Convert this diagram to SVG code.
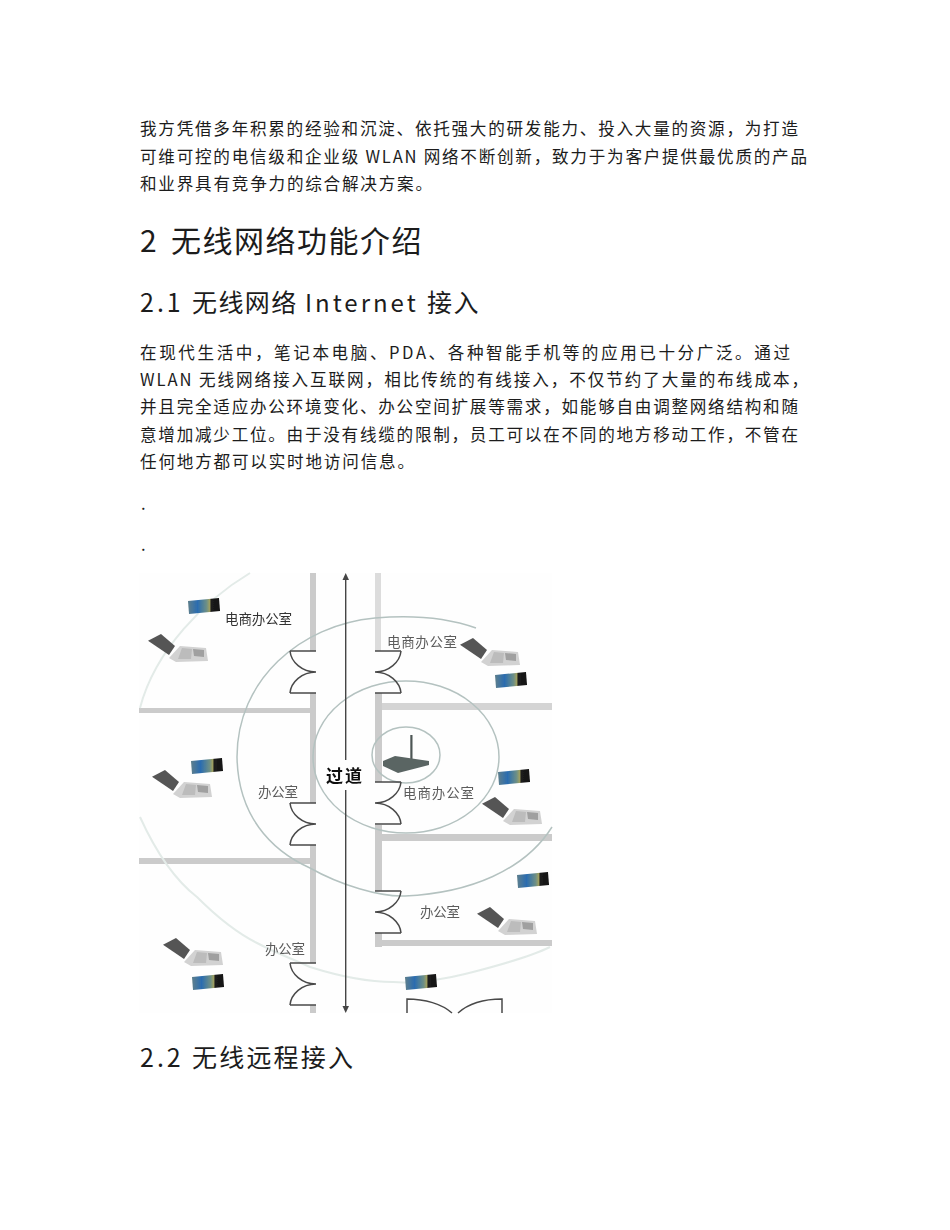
<svg xmlns="http://www.w3.org/2000/svg" xmlns:xlink="http://www.w3.org/1999/xlink" width="950" height="1230" viewBox="0 0 950 1230">
<style>
text{font-family:"Noto Sans CJK SC","Noto Sans",sans-serif;fill:#1c1c1c}
.b{font-size:16.6px}
.h1{font-size:30px}
.h2{font-size:25px}
.w{fill:#cbcbcb}
.d{fill:none;stroke:#4a4a4a;stroke-width:1.5}
.r{fill:none;stroke:#b4c2c0;stroke-width:1.5}
.o{fill:none;stroke:#e3ebe8;stroke-width:2}
.l{font-size:13.5px;fill:#5c5c5c}
</style>
<defs>
<filter id="soft" x="-5%" y="-5%" width="110%" height="110%"><feGaussianBlur stdDeviation="0.55"/></filter>
<linearGradient id="cg" x1="0" x2="1" y1="0" y2="0"><stop offset="0" stop-color="#5f7f8c"/><stop offset=".3" stop-color="#2a6cb0"/><stop offset=".58" stop-color="#6d8f86"/><stop offset=".68" stop-color="#a0a060"/><stop offset=".72" stop-color="#1d1d1d"/><stop offset="1" stop-color="#111"/></linearGradient>
<g id="card"><polygon points="-16,-5 15,-8 16,5 -15,8" fill="url(#cg)"/></g>
<g id="laptop">
<polygon points="0,6.7 13,0 27,12 21,21" fill="#555"/>
<polygon points="21,24 32,12 58,14 60,27 28,28" fill="#d2d2d2"/>
<polygon points="45,15 56,16 56,23 46,22" fill="#a0a0a0"/>
<polygon points="34,14 44,15 43,25 30,25" fill="#bcbcbc"/>
</g>
<g id="doorL"><path d="M290,0H316M290,42H316"/><path d="M290,0C291,11 302,21 316,21C302,21 291,31 290,42" fill="none"/></g>
<g id="doorR"><path d="M375,0H401M375,42H401"/><path d="M401,0C400,11 389,21 375,21C389,21 400,31 401,42" fill="none"/></g>
</defs>
<rect width="950" height="1230" fill="#fff"/>

<g id="body-text">
<text class="b" x="140" y="135" textLength="658" lengthAdjust="spacing">我方凭借多年积累的经验和沉淀、依托强大的研发能力、投入大量的资源，为打造</text>
<text class="b" x="140" y="163" textLength="667" lengthAdjust="spacing">可维可控的电信级和企业级 WLAN 网络不断创新，致力于为客户提供最优质的产品</text>
<text class="b" x="140" y="190" textLength="292" lengthAdjust="spacing">和业界具有竞争力的综合解决方案。</text>
<text class="h1" y="252"><tspan x="140">2</tspan><tspan x="171" letter-spacing="1.5">无线网络功能介绍</tspan></text>
<text class="h2" y="312"><tspan x="140" letter-spacing="3">2.1</tspan><tspan x="192" letter-spacing="1.4">无线网络</tspan><tspan x="305" letter-spacing="3" font-size="24">Internet</tspan><tspan x="427" letter-spacing="1.4">接入</tspan></text>
<text class="b" x="140" y="359" textLength="650" lengthAdjust="spacing">在现代生活中，笔记本电脑、PDA、各种智能手机等的应用已十分广泛。通过</text>
<text class="b" x="140" y="386" textLength="668" lengthAdjust="spacing">WLAN 无线网络接入互联网，相比传统的有线接入，不仅节约了大量的布线成本，</text>
<text class="b" x="140" y="413" textLength="658" lengthAdjust="spacing">并且完全适应办公环境变化、办公空间扩展等需求，如能够自由调整网络结构和随</text>
<text class="b" x="140" y="441" textLength="658" lengthAdjust="spacing">意增加减少工位。由于没有线缆的限制，员工可以在不同的地方移动工作，不管在</text>
<text class="b" x="140" y="468" textLength="274" lengthAdjust="spacing">任何地方都可以实时地访问信息。</text>
<text class="b" x="141" y="510">.</text>
<text class="b" x="141" y="551">.</text>
<text class="h2" y="1067"><tspan x="140" letter-spacing="3">2.2</tspan><tspan x="192" letter-spacing="2.2">无线远程接入</tspan></text>
</g>

<g id="floorplan" filter="url(#soft)">
<rect x="139" y="573" width="413" height="440" fill="#fefefe"/>
<g id="walls">
<rect class="w" x="310" y="573" width="6" height="78"/>
<rect class="w" x="310" y="693" width="6" height="110"/>
<rect class="w" x="310" y="845" width="6" height="118"/>
<rect class="w" x="310" y="1005" width="6" height="8"/>
<rect class="w" x="139" y="708" width="171" height="5"/>
<rect class="w" x="139" y="858" width="171" height="6"/>
<rect x="375" y="573" width="6" height="78" fill="#dcdcdc"/>
<rect class="w" x="375" y="693" width="7" height="89"/>
<rect class="w" x="375" y="825" width="7" height="66"/>
<rect class="w" x="375" y="933" width="7" height="14"/>
<rect x="382" y="703" width="170" height="7" fill="#d4d4d4"/>
<rect class="w" x="382" y="834" width="170" height="7"/>
<rect class="w" x="382" y="940" width="170" height="6"/>
</g>
<g id="rings">
<path class="o" d="M250,573C205,600 155,650 140,708"/>
<path class="o" d="M140,817C155,850 175,880 197,897C215,915 235,932 257,943C280,955 300,962 310,967C345,978 370,982 393,982C420,984 450,978 473,972C500,965 530,957 550,947"/>
<path class="r" d="M476,628C445,617 410,615 375,618C300,625 237,680 237,757C238,815 270,850 310,868C340,885 380,897 405,896C470,893 525,870 552,827"/>
<ellipse class="r" cx="406" cy="757" rx="93" ry="76"/>
<ellipse class="r" cx="406" cy="755" rx="34" ry="28"/>
</g>
<g id="doors" class="d">
<use xlink:href="#doorL" y="651"/>
<use xlink:href="#doorL" y="803"/>
<use xlink:href="#doorL" y="963"/>
<use xlink:href="#doorR" y="651"/>
<use xlink:href="#doorR" y="782"/>
<use xlink:href="#doorR" y="891"/>
<path d="M407,1013V999C425,999 442,1004 452,1013M502,1013V999C484,999 468,1004 458,1013" fill="none"/>
</g>
<g id="corridor-arrow" fill="#444" stroke="none">
<rect x="345" y="578" width="1.4" height="182"/>
<rect x="345" y="790" width="1.4" height="218"/>
<polygon points="345.7,573 342.5,580 349,580"/>
<polygon points="345.7,1013 342.5,1006 349,1006"/>
</g>
<g id="router">
<rect x="410.3" y="735" width="2.2" height="30" fill="#4d5655"/>
<polygon points="383,761 395,756 429,761 429,765 398,773 383,766" fill="#5a6564"/>
</g>
<g id="devices">
<use xlink:href="#card" transform="translate(204,606)"/>
<use xlink:href="#card" transform="translate(207,766)"/>
<use xlink:href="#card" transform="translate(511,680)"/>
<use xlink:href="#card" transform="translate(514,777)"/>
<use xlink:href="#card" transform="translate(533,880)"/>
<use xlink:href="#card" transform="translate(208,982)"/>
<use xlink:href="#card" transform="translate(421,982)"/>
<use xlink:href="#laptop" x="148" y="634"/>
<use xlink:href="#laptop" x="152" y="770"/>
<use xlink:href="#laptop" x="460" y="638"/>
<use xlink:href="#laptop" x="482" y="797"/>
<use xlink:href="#laptop" x="477" y="907"/>
<use xlink:href="#laptop" x="163" y="938"/>
</g>
<g id="labels">
<text class="l" x="225" y="624" textLength="67" style="fill:#333">电商办公室</text>
<text class="l" x="387" y="647" textLength="70">电商办公室</text>
<text class="l" x="403" y="798" textLength="71">电商办公室</text>
<text class="l" x="258" y="797" textLength="40">办公室</text>
<text class="l" x="265" y="954" textLength="40">办公室</text>
<text class="l" x="420" y="917" textLength="40">办公室</text>
<text x="326" y="782" textLength="36" style="font-size:17px;font-weight:700;fill:#111">过道</text>
</g>
</g>
</svg>
